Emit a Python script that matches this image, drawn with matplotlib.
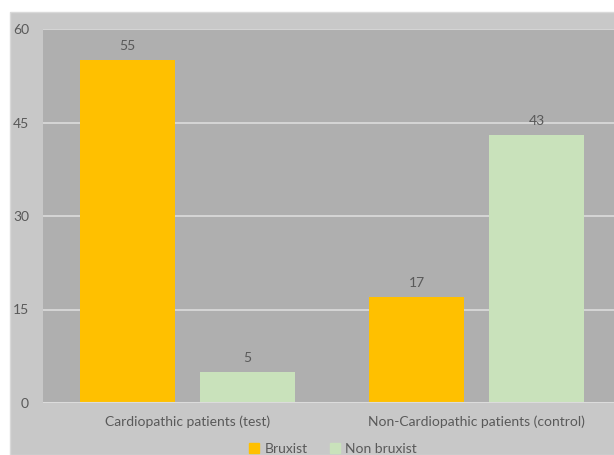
import matplotlib
matplotlib.use("Agg")
import matplotlib.pyplot as plt
import numpy as np
from matplotlib.patches import Rectangle, Patch

categories = ["Cardiopathic patients (test)", "Non-Cardiopathic patients (control)"]
series_names = ["Bruxist", "Non bruxist"]
bruxist = [55, 17]
non_bruxist = [5, 43]
yticks = [0, 15, 30, 45, 60]

c_brux = "#FFC000"
c_non = "#C9E2BB"
txt = "#595959"
plt.rcParams['font.family'] = ['Lato', 'DejaVu Sans']

fig = plt.figure(figsize=(6.14, 4.55), dpi=100, facecolor="white")
fig.patches.append(Rectangle((10/614, 0), 1, (455-12)/455, transform=fig.transFigure,
                             facecolor="#C8C8C8", edgecolor="#D9D9D9", lw=1, zorder=-10))
ax = fig.add_axes([43/614, (455-403)/455, 578/614, 374/455])
ax.set_zorder(1)
ax.set_facecolor("#AFAFAF")
x = np.arange(len(categories))
w = 0.332
off = 0.2076
b1 = ax.bar(x - off, bruxist, w, color=c_brux, zorder=3, label=series_names[0])
b2 = ax.bar(x + off, non_bruxist, w, color=c_non, zorder=3, label=series_names[1])
for bars, vals in ((b1, bruxist), (b2, non_bruxist)):
    for r, v in zip(bars, vals):
        ax.annotate(str(v), (r.get_x() + r.get_width()/2, v), xytext=(0, 6),
                    textcoords="offset points", ha="center", va="bottom",
                    fontsize=10, color=txt)
ax.set_xlim(-0.5, 1.5)
ax.set_ylim(0, 60)
ax.set_yticks(yticks)
ax.set_yticklabels([str(t) for t in yticks], fontsize=10, color=txt)
ax.set_xticks(x)
ax.set_xticklabels(categories, fontsize=10, color=txt)
ax.tick_params(axis="y", length=0, pad=10)
ax.tick_params(axis="x", length=0, pad=9)
ax.grid(axis="y", color="#DCDCDC", lw=1.2, zorder=1)
ax.set_axisbelow(True)
for s in ax.spines.values():
    s.set_visible(False)
ax.axhline(0, color="#DCDCDC", lw=1.5, zorder=4)

handles = [Patch(color=c_brux, label=series_names[0]), Patch(color=c_non, label=series_names[1])]
fig.legend(handles=handles, loc="center", bbox_to_anchor=(333/614, 1 - 449/455), ncol=2,
           frameon=False, fontsize=10, labelcolor=txt, handlelength=0.7, handleheight=0.7,
           handletextpad=0.4, columnspacing=1.6, borderaxespad=0)
fig.savefig("out.png", dpi=100, facecolor="white")
